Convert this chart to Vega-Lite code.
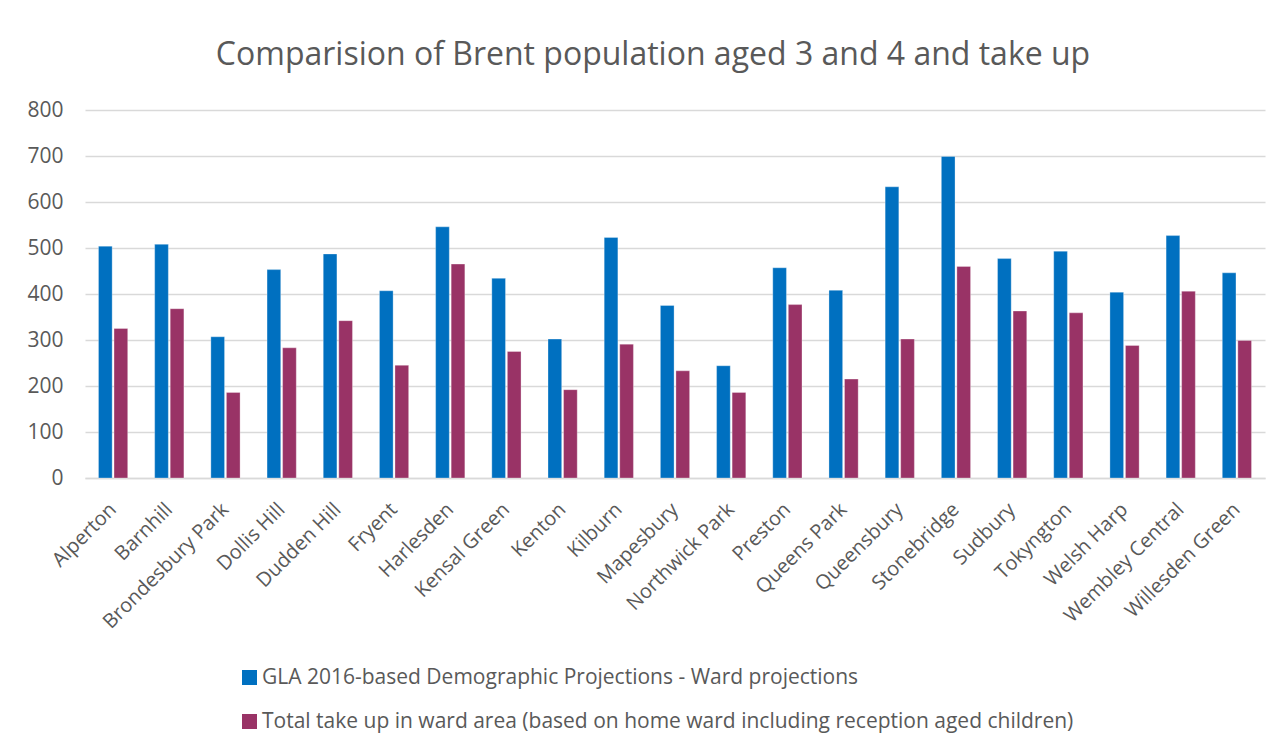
{
  "$schema": "https://vega.github.io/schema/vega-lite/v6.json",
  "autosize": {"type": "none"},
  "width": 1180,
  "height": 368,
  "padding": {"left": 85, "top": 110, "right": 18, "bottom": 271},
  "background": "white",
  "title": {
    "text": "Comparision of Brent population aged 3 and 4 and take up",
    "font": "Open Sans",
    "fontSize": 32,
    "fontWeight": "normal",
    "color": "#595959",
    "anchor": "middle",
    "baseline": "bottom",
    "offset": -5,
    "dx": -22
  },
  "data": {
    "values": [
      {"ward": "Alperton", "series": "GLA 2016-based Demographic Projections - Ward projections", "value": 504},
      {"ward": "Alperton", "series": "Total take up in ward area (based on home ward including reception aged children)", "value": 325},
      {"ward": "Barnhill", "series": "GLA 2016-based Demographic Projections - Ward projections", "value": 508},
      {"ward": "Barnhill", "series": "Total take up in ward area (based on home ward including reception aged children)", "value": 368},
      {"ward": "Brondesbury Park", "series": "GLA 2016-based Demographic Projections - Ward projections", "value": 307},
      {"ward": "Brondesbury Park", "series": "Total take up in ward area (based on home ward including reception aged children)", "value": 186},
      {"ward": "Dollis Hill", "series": "GLA 2016-based Demographic Projections - Ward projections", "value": 453},
      {"ward": "Dollis Hill", "series": "Total take up in ward area (based on home ward including reception aged children)", "value": 283},
      {"ward": "Dudden Hill", "series": "GLA 2016-based Demographic Projections - Ward projections", "value": 487},
      {"ward": "Dudden Hill", "series": "Total take up in ward area (based on home ward including reception aged children)", "value": 342},
      {"ward": "Fryent", "series": "GLA 2016-based Demographic Projections - Ward projections", "value": 407},
      {"ward": "Fryent", "series": "Total take up in ward area (based on home ward including reception aged children)", "value": 245},
      {"ward": "Harlesden", "series": "GLA 2016-based Demographic Projections - Ward projections", "value": 546},
      {"ward": "Harlesden", "series": "Total take up in ward area (based on home ward including reception aged children)", "value": 465},
      {"ward": "Kensal Green", "series": "GLA 2016-based Demographic Projections - Ward projections", "value": 434},
      {"ward": "Kensal Green", "series": "Total take up in ward area (based on home ward including reception aged children)", "value": 275},
      {"ward": "Kenton", "series": "GLA 2016-based Demographic Projections - Ward projections", "value": 302},
      {"ward": "Kenton", "series": "Total take up in ward area (based on home ward including reception aged children)", "value": 192},
      {"ward": "Kilburn", "series": "GLA 2016-based Demographic Projections - Ward projections", "value": 523},
      {"ward": "Kilburn", "series": "Total take up in ward area (based on home ward including reception aged children)", "value": 291},
      {"ward": "Mapesbury", "series": "GLA 2016-based Demographic Projections - Ward projections", "value": 375},
      {"ward": "Mapesbury", "series": "Total take up in ward area (based on home ward including reception aged children)", "value": 233},
      {"ward": "Northwick Park", "series": "GLA 2016-based Demographic Projections - Ward projections", "value": 244},
      {"ward": "Northwick Park", "series": "Total take up in ward area (based on home ward including reception aged children)", "value": 186},
      {"ward": "Preston", "series": "GLA 2016-based Demographic Projections - Ward projections", "value": 457},
      {"ward": "Preston", "series": "Total take up in ward area (based on home ward including reception aged children)", "value": 377},
      {"ward": "Queens Park", "series": "GLA 2016-based Demographic Projections - Ward projections", "value": 408},
      {"ward": "Queens Park", "series": "Total take up in ward area (based on home ward including reception aged children)", "value": 215},
      {"ward": "Queensbury", "series": "GLA 2016-based Demographic Projections - Ward projections", "value": 633},
      {"ward": "Queensbury", "series": "Total take up in ward area (based on home ward including reception aged children)", "value": 302},
      {"ward": "Stonebridge", "series": "GLA 2016-based Demographic Projections - Ward projections", "value": 699},
      {"ward": "Stonebridge", "series": "Total take up in ward area (based on home ward including reception aged children)", "value": 460},
      {"ward": "Sudbury", "series": "GLA 2016-based Demographic Projections - Ward projections", "value": 477},
      {"ward": "Sudbury", "series": "Total take up in ward area (based on home ward including reception aged children)", "value": 363},
      {"ward": "Tokyngton", "series": "GLA 2016-based Demographic Projections - Ward projections", "value": 493},
      {"ward": "Tokyngton", "series": "Total take up in ward area (based on home ward including reception aged children)", "value": 359},
      {"ward": "Welsh Harp", "series": "GLA 2016-based Demographic Projections - Ward projections", "value": 404},
      {"ward": "Welsh Harp", "series": "Total take up in ward area (based on home ward including reception aged children)", "value": 288},
      {"ward": "Wembley Central", "series": "GLA 2016-based Demographic Projections - Ward projections", "value": 527},
      {"ward": "Wembley Central", "series": "Total take up in ward area (based on home ward including reception aged children)", "value": 406},
      {"ward": "Willesden Green", "series": "GLA 2016-based Demographic Projections - Ward projections", "value": 446},
      {"ward": "Willesden Green", "series": "Total take up in ward area (based on home ward including reception aged children)", "value": 299}
    ]
  },
  "mark": {"type": "bar", "stroke": "white", "strokeWidth": 0.5, "strokeOpacity": 0.6},
  "encoding": {
    "x": {
      "field": "ward",
      "type": "nominal",
      "sort": null,
      "title": null,
      "scale": {"paddingInner": 0.48, "paddingOuter": 0.24},
      "axis": {
        "labelAngle": -45,
        "labelFont": "Open Sans",
        "labelFontSize": 20,
        "labelColor": "#595959",
        "labelPadding": 21,
        "labelOffset": -7,
        "ticks": false,
        "domainColor": "#d9d9d9",
        "domainWidth": 1.5
      }
    },
    "xOffset": {
      "field": "series",
      "type": "nominal",
      "sort": null,
      "scale": {"paddingInner": 0.12}
    },
    "y": {
      "field": "value",
      "type": "quantitative",
      "title": null,
      "scale": {"domain": [0, 800], "nice": false},
      "axis": {
        "values": [0, 100, 200, 300, 400, 500, 600, 700, 800],
        "labelFont": "Open Sans",
        "labelFontSize": 21,
        "labelColor": "#595959",
        "labelPadding": 22,
        "ticks": false,
        "domain": false,
        "gridColor": "#d9d9d9",
        "gridWidth": 1.5
      }
    },
    "color": {
      "field": "series",
      "type": "nominal",
      "sort": null,
      "scale": {
        "domain": [
          "GLA 2016-based Demographic Projections - Ward projections",
          "Total take up in ward area (based on home ward including reception aged children)"
        ],
        "range": ["#0070c0", "#993366"]
      },
      "legend": {
        "orient": "none",
        "legendX": 154,
        "legendY": 557,
        "title": null,
        "symbolType": "square",
        "symbolSize": 225,
        "symbolStrokeWidth": 0,
        "labelFont": "Open Sans",
        "labelFontSize": 21,
        "labelColor": "#595959",
        "labelLimit": 1000,
        "rowPadding": 22,
        "labelOffset": 2
      }
    }
  },
  "config": {"view": {"stroke": null}}
}
